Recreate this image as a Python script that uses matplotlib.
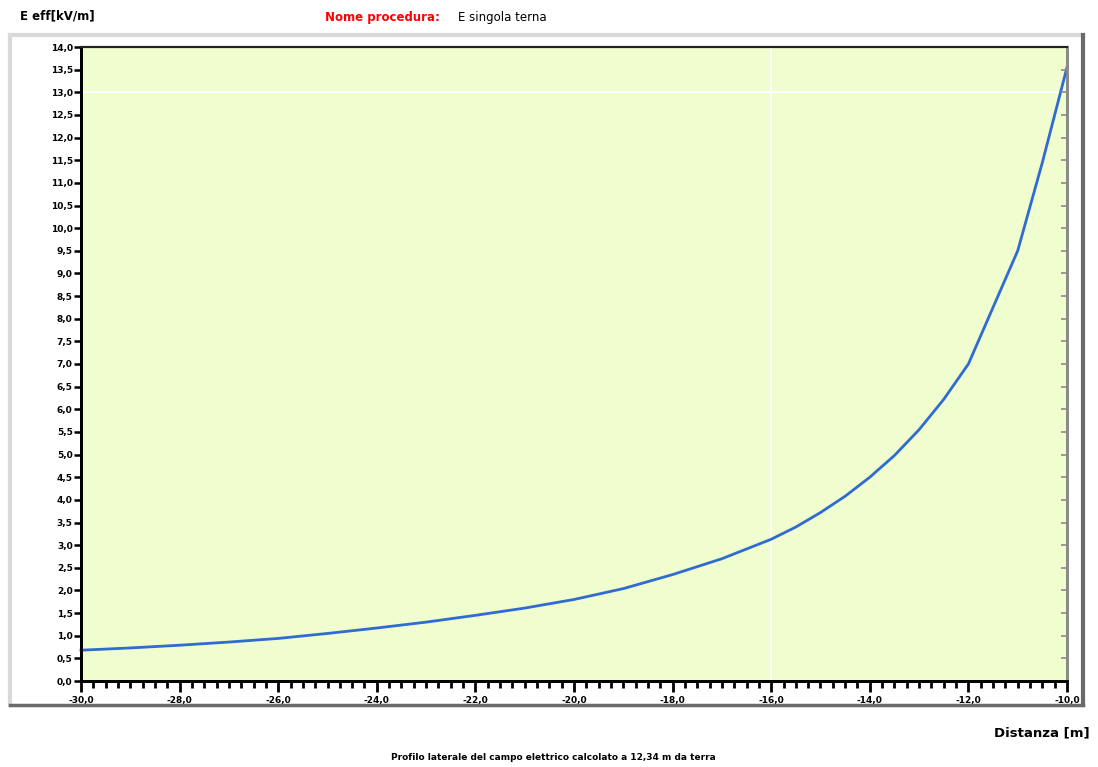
import matplotlib
matplotlib.use("Agg")
import matplotlib.pyplot as plt
from matplotlib.lines import Line2D
from matplotlib.ticker import MultipleLocator, FuncFormatter

# Lateral profile of the electric field
distanza = [-30, -29, -28, -27, -26, -25, -24, -23, -22, -21, -20,
            -19, -18, -17, -16, -15.5, -15, -14.5, -14, -13.5, -13,
            -12.5, -12, -11.5, -11, -10.5, -10]
e_eff = [0.68, 0.73, 0.79, 0.86, 0.94, 1.05, 1.17, 1.30, 1.45, 1.61, 1.80,
         2.04, 2.35, 2.70, 3.13, 3.40, 3.72, 4.08, 4.50, 4.98, 5.55,
         6.22, 7.00, 8.25, 9.50, 11.45, 13.55]

grid_x = [-16.0]
grid_y = [13.0]

y_label = "E eff[kV/m]"
x_label = "Distanza [m]"
proc_label = "Nome procedura:"
proc_name = "E singola terna"
caption = "Profilo laterale del campo elettrico calcolato a 12,34 m da terra"

W, H = 1098, 767
fig = plt.figure(figsize=(W / 100, H / 100), dpi=100)


def fx(px):
    return px / W


def fy(py):
    return 1 - py / H


# outer panel frame (light top/left, dark bottom/right)
x0, x1, y0, y1 = 10, 1083, 35, 705
fig.add_artist(Line2D([fx(x0), fx(x1)], [fy(y0), fy(y0)], transform=fig.transFigure, color="#d9d9d9", lw=3))
fig.add_artist(Line2D([fx(x0), fx(x0)], [fy(y0), fy(y1)], transform=fig.transFigure, color="#d9d9d9", lw=3))
fig.add_artist(Line2D([fx(x1), fx(x1)], [fy(y0), fy(y1)], transform=fig.transFigure, color="#6a6a6a", lw=3))
fig.add_artist(Line2D([fx(x0), fx(x1)], [fy(y1), fy(y1)], transform=fig.transFigure, color="#6a6a6a", lw=2.5))

ax = fig.add_axes([fx(81), fy(681), fx(1067 - 81), (681 - 47) / H])
ax.set_facecolor("#f0fdce")

for gx in grid_x:
    ax.axvline(gx, color="white", lw=1.4, zorder=1)
for gy in grid_y:
    ax.axhline(gy, color="white", lw=1.4, zorder=1)

ax.plot(distanza, e_eff, color="#2f6bd2", lw=2.0, zorder=3, clip_on=False)

ax.set_xlim(-30, -10)
ax.set_ylim(0, 14)
ax.xaxis.set_major_locator(MultipleLocator(2))
ax.xaxis.set_minor_locator(MultipleLocator(0.25))
ax.yaxis.set_major_locator(MultipleLocator(0.5))

comma = FuncFormatter(lambda v, pos: f"{v:.1f}".replace(".", ","))
ax.xaxis.set_major_formatter(comma)
ax.yaxis.set_major_formatter(comma)

ax.tick_params(axis="x", which="major", direction="out", length=8, width=2, pad=3,
               labelsize=6.5, colors="black")
ax.tick_params(axis="x", which="minor", direction="out", length=5, width=2)
ax.tick_params(axis="y", which="major", direction="out", length=5, width=1.8, pad=1,
               labelsize=6.5)
for lab in ax.get_xticklabels() + ax.get_yticklabels():
    lab.set_fontweight("bold")

# grey inward ticks on the right edge
ax_r = ax.twinx()
ax_r.set_ylim(ax.get_ylim())
ax_r.yaxis.set_major_locator(MultipleLocator(0.5))
ax_r.tick_params(axis="y", direction="in", length=4, width=1.2, colors="#8a8a8a", labelright=False)

for a in (ax, ax_r):
    a.spines["left"].set_linewidth(2)
    a.spines["left"].set_color("black")
    a.spines["bottom"].set_linewidth(2)
    a.spines["top"].set_linewidth(1.5)
    a.spines["top"].set_color("#222222")
    a.spines["right"].set_linewidth(2)
    a.spines["right"].set_color("#8a8a8a")

fig.text(fx(20), fy(16), y_label, fontsize=8.5, fontweight="bold", ha="left", va="center")
fig.text(fx(325), fy(18), proc_label, fontsize=8.5, fontweight="bold", color="red", ha="left", va="center")
fig.text(fx(458), fy(18), proc_name, fontsize=8.5, ha="left", va="center")
fig.text(fx(1090), fy(733), x_label, fontsize=9.5, fontweight="bold", ha="right", va="center")
fig.text(fx(553), fy(757), caption, fontsize=6.5, fontweight="bold", ha="center", va="center")

fig.savefig("out.png", dpi=100)
